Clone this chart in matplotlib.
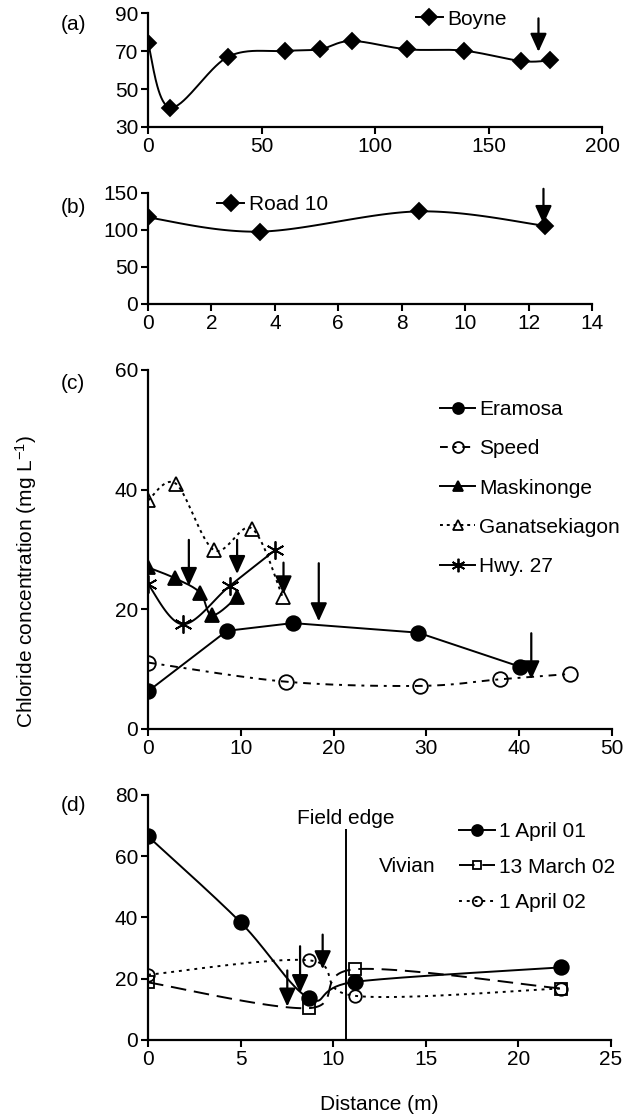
import matplotlib
matplotlib.use('Agg')
import matplotlib.pyplot as plt
import numpy as np

plt.rcParams['font.family'] = ['Liberation Sans', 'DejaVu Sans']
plt.rcParams['font.size'] = 15
plt.rcParams['mathtext.default'] = 'regular'

# ---- data ----
# (a) Boyne
boyne_x = [0, 9.7, 35.3, 60.2, 75.6, 89.7, 114.2, 139.1, 164.5, 177.2]
boyne_y = [74.2, 40.2, 67.0, 70.0, 70.9, 75.3, 70.9, 70.2, 64.7, 65.1]
boyne_arrow = (172, 87.2, 69.6)   # x, top, tip

# (b) Road 10
road_x = [0, 3.53, 8.53, 12.53]
road_y = [116.8, 97.7, 125.0, 105.5]
road_arrow = (12.47, 155.5, 108)

# (c)
eramosa_x = [0, 8.5, 15.6, 29.1, 40.1]
eramosa_y = [6.3, 16.4, 17.7, 16.1, 10.4]
speed_x = [0, 14.9, 29.3, 37.9, 45.5]
speed_y = [11.1, 7.9, 7.2, 8.3, 9.2]
mask_x = [0, 2.9, 5.6, 6.9, 9.6]
mask_y = [27.0, 25.2, 22.8, 19.0, 22.0]
ganat_x = [0, 3.0, 7.1, 11.2, 14.5]
ganat_y = [38.2, 41.0, 29.9, 33.5, 22.1]
hwy_x = [0, 3.75, 8.8, 13.7]
hwy_y = [24.2, 17.5, 23.9, 29.9]
c_arrow_x = [4.4, 9.6, 14.6, 18.4, 41.3]
c_arrow_top = [31.6, 31.6, 27.8, 27.7, 16.0]
c_arrow_tip = [23.9, 25.9, 22.5, 18.0, 8.3]

# (d) Vivian
apr01_x = [0, 5.0, 8.7, 11.2, 22.3]
apr01_y = [66.5, 38.4, 13.6, 19.0, 23.7]
mar02_x = [0, 8.7, 11.2, 22.3]
mar02_y = [18.8, 10.4, 23.1, 16.8]
apr02_x = [0, 8.7, 11.2, 22.3]
apr02_y = [21.3, 26.0, 14.4, 16.8]
d_arrow_x = [7.52, 8.21, 9.43]
d_arrow_top = [22.7, 30.6, 34.4]
d_arrow_tip = [10.9, 15.3, 23.1]
field_edge_x = 10.7
field_edge_top = 69


def smooth(x, y, n=40):
    # Excel-style smoothed line (Catmull-Rom as cubic Bezier)
    p = np.column_stack([x, y]).astype(float)
    out = [p[:1]]
    t = np.linspace(0, 1, n)[1:, None]
    for i in range(len(p) - 1):
        p0 = p[i - 1] if i > 0 else p[i]
        p1, p2 = p[i], p[i + 1]
        p3 = p[i + 2] if i + 2 < len(p) else p[i + 1]
        c1 = p1 + (p2 - p0) / 6
        c2 = p2 - (p3 - p1) / 6
        seg = ((1 - t) ** 3) * p1 + 3 * ((1 - t) ** 2) * t * c1 + 3 * (1 - t) * t ** 2 * c2 + t ** 3 * p2
        out.append(seg)
    s = np.vstack(out)
    return s[:, 0], s[:, 1]


def series(ax, x, y, marker, ms, ls='-', fill='k', smoothed=True, label=None, mew=1.3, lms=None):
    if smoothed:
        sx, sy = smooth(x, y)
    else:
        sx, sy = x, y
    ax.plot(sx, sy, color='k', lw=1.4, ls=ls, zorder=2)
    ax.plot(x, y, ls='none', marker=marker, ms=ms, mfc=fill, mec='k', mew=mew, zorder=3)
    # legend proxy
    ax.plot([], [], color='k', lw=1.4, ls=ls, marker=marker, ms=lms or ms * 0.75,
            mfc=fill, mec='k', mew=mew, label=label)


def arrow(ax, x, top, tip):
    ax.annotate('', xy=(x, tip), xytext=(x, top),
                arrowprops=dict(arrowstyle='-|>,head_length=0.55,head_width=0.25',
                                mutation_scale=20, lw=1.6, color='k',
                                shrinkA=0, shrinkB=0), zorder=4)


def style(ax, xlim, ylim, xstep, ystep):
    ax.set_xlim(*xlim)
    ax.set_ylim(*ylim)
    ax.set_xticks(np.arange(xlim[0], xlim[1] + 0.01, xstep))
    ax.set_yticks(np.arange(ylim[0], ylim[1] + 0.01, ystep))
    for s in ['top', 'right']:
        ax.spines[s].set_visible(False)
    for s in ['left', 'bottom']:
        ax.spines[s].set_linewidth(1.6)
    ax.tick_params(direction='out', length=5, width=1.5, labelsize=15, pad=2)


fig = plt.figure(figsize=(6.24, 11.15), dpi=100)
ax_a = fig.add_axes([0.2372, 0.8861, 0.7276, 0.1022])
ax_b = fig.add_axes([0.2372, 0.7274, 0.7115, 0.0996])
ax_c = fig.add_axes([0.2372, 0.3462, 0.7436, 0.3220])
ax_d = fig.add_axes([0.2372, 0.0673, 0.7420, 0.2197])

# (a)
series(ax_a, boyne_x, boyne_y, 'D', 8, label='Boyne', lms=8)
arrow(ax_a, *boyne_arrow)
style(ax_a, (0, 200), (30, 90), 50, 20)
ax_a.legend(loc='center left', bbox_to_anchor=(0.59, 0.947), frameon=False,
            borderpad=0, borderaxespad=0, handlelength=1.3, handletextpad=0.2)

# (b)
series(ax_b, road_x, road_y, 'D', 8, label='Road 10', lms=8)
arrow(ax_b, *road_arrow)
style(ax_b, (0, 14), (0, 150), 2, 50)
ax_b.legend(loc='center left', bbox_to_anchor=(0.156, 0.895), frameon=False,
            borderpad=0, borderaxespad=0, handlelength=1.3, handletextpad=0.2)

# (c)
series(ax_c, eramosa_x, eramosa_y, 'o', 10.5, smoothed=False, label='Eramosa')
series(ax_c, speed_x, speed_y, 'o', 10.5, ls=(0, (4, 3, 1.5, 3)), fill='none', label='Speed')
series(ax_c, mask_x, mask_y, '^', 10, label='Maskinonge')
series(ax_c, ganat_x, ganat_y, '^', 10, ls=(0, (1.5, 2)), fill='none', label='Ganatsekiagon')
series(ax_c, hwy_x, hwy_y, (6, 2, 0), 13, label='Hwy. 27')
for x, t, p in zip(c_arrow_x, c_arrow_top, c_arrow_tip):
    arrow(ax_c, x, t, p)
style(ax_c, (0, 50), (0, 60), 10, 20)
ax_c.legend(loc='center left', bbox_to_anchor=(0.629, 0.671), frameon=False,
            borderpad=0, borderaxespad=0, handlelength=1.7, handletextpad=0.2,
            labelspacing=0.97)

# (d)
series(ax_d, apr01_x, apr01_y, 'o', 10.5, label='1 April 01')
series(ax_d, mar02_x, mar02_y, 's', 8, ls=(0, (8, 4)), fill='none', label='13 March 02')
series(ax_d, apr02_x, apr02_y, 'o', 9, ls=(0, (1.5, 2.5)), fill='none', label='1 April 02')
for x, t, p in zip(d_arrow_x, d_arrow_top, d_arrow_tip):
    arrow(ax_d, x, t, p)
ax_d.vlines(field_edge_x, 0, field_edge_top, color='k', lw=1.4)
ax_d.text(field_edge_x, 72.4, 'Field edge', ha='center', va='center')
ax_d.text(15.5, 56.8, 'Vivian', ha='right', va='center')
style(ax_d, (0, 25), (0, 80), 5, 20)
ax_d.legend(loc='center left', bbox_to_anchor=(0.672, 0.706), frameon=False,
            borderpad=0, borderaxespad=0, handlelength=1.7, handletextpad=0.2,
            labelspacing=0.8)
ax_d.set_xlabel('Distance (m)', labelpad=19)

# panel letters and shared y label
for lab, yy in zip(['(a)', '(b)', '(c)', '(d)'], [0.9776, 0.8143, 0.6565, 0.278]):
    fig.text(0.117, yy, lab, ha='center', va='center')
fig.text(26 / 624, 1 - 581 / 1115, 'Chloride concentration (mg L$^{-1}$)',
         rotation=90, ha='center', va='center')

fig.savefig('out.png', dpi=100)
